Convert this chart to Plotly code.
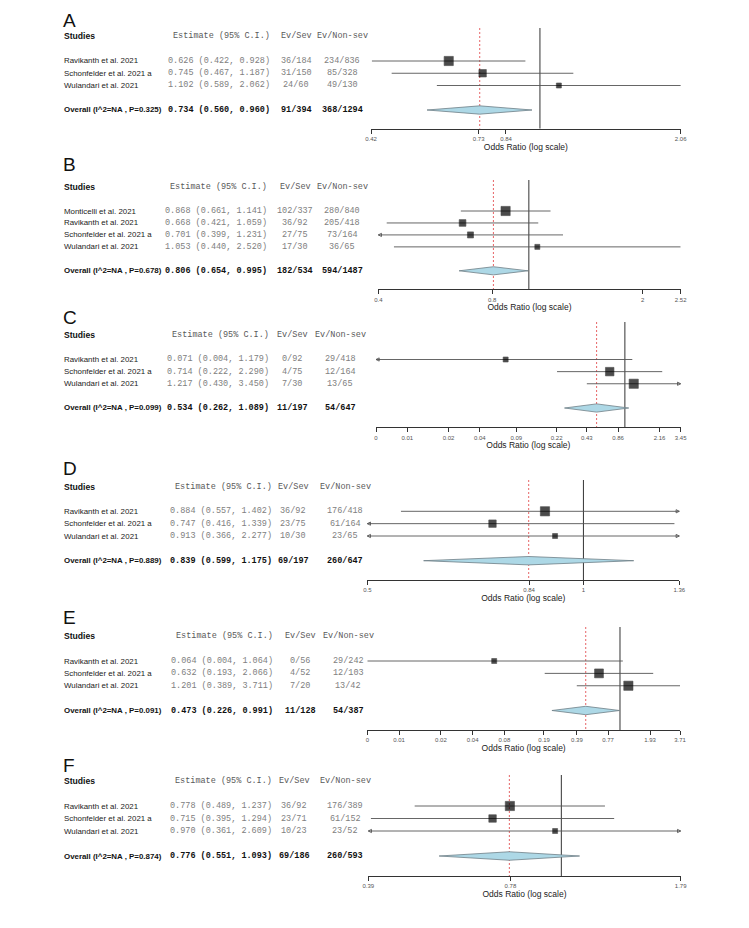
import math
import plotly.graph_objects as go

# page window is 749x928; the html body adds an 8px margin, so the figure is sized to fit inside it
PAGE_MARGIN = 8
W, H = 749 - PAGE_MARGIN, 928 - PAGE_MARGIN

# ---------------------------------------------------------------- data
studies_A = ["Ravikanth et al. 2021", "Schonfelder et al. 2021 a", "Wulandari et al. 2021"]
est_A = [0.626, 0.745, 1.102]
lb_A = [0.422, 0.467, 0.589]
ub_A = [0.928, 1.187, 2.062]
ev_sev_A = ["36/184", "31/150", "24/60"]
ev_non_A = ["234/836", "85/328", "49/130"]
overall_A = [0.734, 0.560, 0.960]
overall_ev_A = ["91/394", "368/1294"]
p_A = "0.325"
ticks_A = [0.42, 0.73, 0.84, 2.06]
ticklabels_A = ["0.42", "0.73", "0.84", "2.06"]

studies_B = ["Monticelli et al. 2021", "Ravikanth et al. 2021", "Schonfelder et al. 2021 a", "Wulandari et al. 2021"]
est_B = [0.868, 0.668, 0.701, 1.053]
lb_B = [0.661, 0.421, 0.399, 0.440]
ub_B = [1.141, 1.059, 1.231, 2.520]
ev_sev_B = ["102/337", "36/92", "27/75", "17/30"]
ev_non_B = ["280/840", "205/418", "73/164", "36/65"]
overall_B = [0.806, 0.654, 0.995]
overall_ev_B = ["182/534", "594/1487"]
p_B = "0.678"
ticks_B = [0.4, 0.8, 2, 2.52]
ticklabels_B = ["0.4", "0.8", "2", "2.52"]

studies_C = ["Ravikanth et al. 2021", "Schonfelder et al. 2021 a", "Wulandari et al. 2021"]
est_C = [0.071, 0.714, 1.217]
lb_C = [0.004, 0.222, 0.430]
ub_C = [1.179, 2.290, 3.450]
ev_sev_C = ["0/92", "4/75", "7/30"]
ev_non_C = ["29/418", "12/164", "13/65"]
overall_C = [0.534, 0.262, 1.089]
overall_ev_C = ["11/197", "54/647"]
p_C = "0.099"
ticks_C = [0.004, 0.008, 0.02, 0.04, 0.09, 0.22, 0.43, 0.86, 2.16, 3.45]
ticklabels_C = ["0", "0.01", "0.02", "0.04", "0.09", "0.22", "0.43", "0.86", "2.16", "3.45"]

studies_D = ["Ravikanth et al. 2021", "Schonfelder et al. 2021 a", "Wulandari et al. 2021"]
est_D = [0.884, 0.747, 0.913]
lb_D = [0.557, 0.416, 0.366]
ub_D = [1.402, 1.339, 2.277]
ev_sev_D = ["36/92", "23/75", "10/30"]
ev_non_D = ["176/418", "61/164", "23/65"]
overall_D = [0.839, 0.599, 1.175]
overall_ev_D = ["69/197", "260/647"]
p_D = "0.889"
ticks_D = [0.5, 0.84, 1, 1.36]
ticklabels_D = ["0.5", "0.84", "1", "1.36"]

studies_E = ["Ravikanth et al. 2021", "Schonfelder et al. 2021 a", "Wulandari et al. 2021"]
est_E = [0.064, 0.632, 1.201]
lb_E = [0.004, 0.193, 0.389]
ub_E = [1.064, 2.066, 3.711]
ev_sev_E = ["0/56", "4/52", "7/20"]
ev_non_E = ["29/242", "12/103", "13/42"]
overall_E = [0.473, 0.226, 0.991]
overall_ev_E = ["11/128", "54/387"]
p_E = "0.091"
ticks_E = [0.004, 0.008, 0.02, 0.04, 0.08, 0.19, 0.39, 0.77, 1.93, 3.71]
ticklabels_E = ["0", "0.01", "0.02", "0.04", "0.08", "0.19", "0.39", "0.77", "1.93", "3.71"]

studies_F = ["Ravikanth et al. 2021", "Schonfelder et al. 2021 a", "Wulandari et al. 2021"]
est_F = [0.778, 0.715, 0.970]
lb_F = [0.489, 0.395, 0.361]
ub_F = [1.237, 1.294, 2.609]
ev_sev_F = ["36/92", "23/71", "10/23"]
ev_non_F = ["176/389", "61/152", "23/52"]
overall_F = [0.776, 0.551, 1.093]
overall_ev_F = ["69/186", "260/593"]
p_F = "0.874"
ticks_F = [0.39, 0.78, 1.79]
ticklabels_F = ["0.39", "0.78", "1.79"]

panels = [
    dict(letter="A", studies=studies_A, est=est_A, lb=lb_A, ub=ub_A, ev_sev=ev_sev_A, ev_non=ev_non_A,
         overall=overall_A, overall_ev=overall_ev_A, p=p_A, ticks=ticks_A, ticklabels=ticklabels_A),
    dict(letter="B", studies=studies_B, est=est_B, lb=lb_B, ub=ub_B, ev_sev=ev_sev_B, ev_non=ev_non_B,
         overall=overall_B, overall_ev=overall_ev_B, p=p_B, ticks=ticks_B, ticklabels=ticklabels_B),
    dict(letter="C", studies=studies_C, est=est_C, lb=lb_C, ub=ub_C, ev_sev=ev_sev_C, ev_non=ev_non_C,
         overall=overall_C, overall_ev=overall_ev_C, p=p_C, ticks=ticks_C, ticklabels=ticklabels_C),
    dict(letter="D", studies=studies_D, est=est_D, lb=lb_D, ub=ub_D, ev_sev=ev_sev_D, ev_non=ev_non_D,
         overall=overall_D, overall_ev=overall_ev_D, p=p_D, ticks=ticks_D, ticklabels=ticklabels_D),
    dict(letter="E", studies=studies_E, est=est_E, lb=lb_E, ub=ub_E, ev_sev=ev_sev_E, ev_non=ev_non_E,
         overall=overall_E, overall_ev=overall_ev_E, p=p_E, ticks=ticks_E, ticklabels=ticklabels_E),
    dict(letter="F", studies=studies_F, est=est_F, lb=lb_F, ub=ub_F, ev_sev=ev_sev_F, ev_non=ev_non_F,
         overall=overall_F, overall_ev=overall_ev_F, p=p_F, ticks=ticks_F, ticklabels=ticklabels_F),
]

# ---------------------------------------------------------------- layout / style (page pixels)
geom = {
    "A": dict(x0=371, x1=680.7, first=61, overall=110, axis=128.7, top=28, letter=21, est_r=272, sev=296, non=342),
    "B": dict(x0=378.3, x1=680.7, first=211, overall=270.8, axis=289.3, top=180, letter=165, est_r=269, sev=295, non=342),
    "C": dict(x0=376, x1=680.7, first=359.5, overall=408, axis=427.3, top=322, letter=317, est_r=270.5, sev=292, non=340),
    "D": dict(x0=367.3, x1=679.3, first=511.3, overall=560.7, axis=580, top=480, letter=468, est_r=273.5, sev=293, non=345),
    "E": dict(x0=367.3, x1=680, first=661, overall=710.5, axis=730, top=627, letter=617, est_r=275, sev=300, non=348),
    "F": dict(x0=368.3, x1=680.7, first=806, overall=856, axis=876, top=775, letter=765, est_r=273.5, sev=294, non=345),
}
# (left arrow, right arrow) drawn for truncated intervals
arrows = {
    "A": [(0, 0), (0, 0), (0, 0)],
    "B": [(0, 0), (0, 0), (1, 0), (0, 0)],
    "C": [(1, 0), (0, 0), (0, 1)],
    "D": [(0, 1), (1, 0), (1, 1)],
    "E": [(0, 0), (0, 0), (0, 0)],
    "F": [(0, 0), (0, 0), (1, 1)],
}

SANS = "Liberation Sans, Arial, sans-serif"
MONO = "Liberation Mono, Courier New, monospace"
CI_COL = "#555555"
ROW_GRAY = "#808080"
HDR_GRAY = "#5a5a5a"
DIAMOND_FILL = "#ADD8E6"
MIN_SQ, MAX_SQ = 5.0, 9.2
DIAMOND_HALF = 0.34
NAME_SIZE = 7.9
MONO_SIZE = 8.5

fig = go.Figure()
annotations = []
layout_axes = {}


def px_x(p):
    return (p - PAGE_MARGIN) / W


def px_y(p):
    return 1 - (p - PAGE_MARGIN) / H


for i, pn in enumerate(panels, start=1):
    g = geom[pn["letter"]]
    n = len(pn["studies"])
    xa = "x" if i == 1 else f"x{i}"
    ya = "y" if i == 1 else f"y{i}"
    xkey = "xaxis" if i == 1 else f"xaxis{i}"
    ykey = "yaxis" if i == 1 else f"yaxis{i}"

    s = (g["overall"] - g["first"]) / (n + 1)
    y_bottom = 1 + (g["axis"] - g["first"]) / s
    y_top = 1 + (g["top"] - g["first"]) / s
    rows = list(range(1, n + 1))
    y_over = n + 2
    y_hdr = -1

    xmin, xmax = pn["ticks"][0], pn["ticks"][-1]

    layout_axes[xkey] = dict(
        type="log", range=[math.log10(xmin), math.log10(xmax)],
        domain=[px_x(g["x0"]), px_x(g["x1"])], anchor=ya,
        showline=True, linecolor="#333333", linewidth=1, mirror=False,
        ticks="outside", ticklen=4, tickwidth=1, tickcolor="#333333",
        tickvals=pn["ticks"], ticktext=pn["ticklabels"],
        tickfont=dict(family=SANS, size=6, color="#555555"),
        showgrid=False, zeroline=False, fixedrange=True,
        title=dict(text="Odds Ratio (log scale)", font=dict(family=SANS, size=8.5, color="#222222"), standoff=1),
        automargin=False,
    )
    layout_axes[ykey] = dict(
        range=[y_bottom, y_top], domain=[px_y(g["axis"]), px_y(g["top"])], anchor=xa,
        visible=False, fixedrange=True,
    )

    # reference line at OR = 1
    fig.add_trace(go.Scatter(x=[1, 1], y=[y_top, y_bottom], mode="lines", xaxis=xa, yaxis=ya,
                             line=dict(color="#333333", width=1), hoverinfo="skip", cliponaxis=False))
    # pooled estimate line
    fig.add_trace(go.Scatter(x=[pn["overall"][0]] * 2, y=[y_top, y_bottom], mode="lines", xaxis=xa, yaxis=ya,
                             line=dict(color="#e03c3f", width=0.8, dash="2px,2px"), hoverinfo="skip"))

    # CI lines
    for k in range(n):
        fig.add_trace(go.Scatter(x=[pn["lb"][k], pn["ub"][k]], y=[rows[k], rows[k]], mode="lines",
                                 xaxis=xa, yaxis=ya, line=dict(color=CI_COL, width=0.9), hoverinfo="skip"))
        la, ra = arrows[pn["letter"]][k]
        if la:
            fig.add_trace(go.Scatter(x=[xmin], y=[rows[k]], mode="markers", xaxis=xa, yaxis=ya,
                                     marker=dict(symbol="arrow-left-open", size=3.2, color=CI_COL,
                                                 line=dict(color=CI_COL, width=0.9)),
                                     hoverinfo="skip", cliponaxis=False))
        if ra:
            fig.add_trace(go.Scatter(x=[xmax], y=[rows[k]], mode="markers", xaxis=xa, yaxis=ya,
                                     marker=dict(symbol="arrow-right-open", size=3.2, color=CI_COL,
                                                 line=dict(color=CI_COL, width=0.9)),
                                     hoverinfo="skip", cliponaxis=False))

    # square sizes from inverse standard errors
    inv_se = [3.92 / (math.log(u) - math.log(l)) for l, u in zip(pn["lb"], pn["ub"])]
    lo, hi = min(inv_se), max(inv_se)
    sizes = [MIN_SQ + (MAX_SQ - MIN_SQ) * (v - lo) / (hi - lo) for v in inv_se]
    fig.add_trace(go.Scatter(x=pn["est"], y=rows, mode="markers", xaxis=xa, yaxis=ya,
                             marker=dict(symbol="square", size=sizes, color="#000000",
                                         line=dict(width=0.6, color="#000000")),
                             hoverinfo="skip", cliponaxis=False))

    # diamond
    oe, ol, ou = pn["overall"]
    fig.add_trace(go.Scatter(x=[ol, oe, ou, oe, ol], y=[y_over, y_over - DIAMOND_HALF, y_over, y_over + DIAMOND_HALF, y_over],
                             mode="lines", fill="toself", fillcolor=DIAMOND_FILL, xaxis=xa, yaxis=ya,
                             line=dict(color="#6f7f86", width=0.8), hoverinfo="skip"))

    # ---- texts
    annotations.append(dict(text=pn["letter"], xref="paper", yref="paper", x=px_x(61), y=px_y(g["letter"]),
                            xanchor="left", yanchor="middle", showarrow=False,
                            font=dict(family=SANS, size=19, color="#111111")))
    hdr = [("<b>Studies</b>", 62, "left", SANS, 8.6, "#111111"),
           ("Estimate (95% C.I.)", g["est_r"], "right", MONO, MONO_SIZE, HDR_GRAY),
           ("Ev/Sev", g["sev"], "center", MONO, MONO_SIZE, HDR_GRAY),
           ("Ev/Non-sev", g["non"], "center", MONO, MONO_SIZE, HDR_GRAY)]
    for txt, xp, anc, fam, sz, col in hdr:
        annotations.append(dict(text=txt, xref="paper", yref=ya, x=px_x(xp), y=y_hdr, xanchor=anc,
                                yanchor="middle", showarrow=False, font=dict(family=fam, size=sz, color=col)))
    for k in range(n):
        est_txt = f"{pn['est'][k]:.3f} ({pn['lb'][k]:.3f}, {pn['ub'][k]:.3f})"
        cells = [(pn["studies"][k], 62, "left", SANS, NAME_SIZE, "#222222"),
                 (est_txt, g["est_r"], "right", MONO, MONO_SIZE, ROW_GRAY),
                 (pn["ev_sev"][k], g["sev"], "center", MONO, MONO_SIZE, ROW_GRAY),
                 (pn["ev_non"][k], g["non"], "center", MONO, MONO_SIZE, ROW_GRAY)]
        for txt, xp, anc, fam, sz, col in cells:
            annotations.append(dict(text=txt, xref="paper", yref=ya, x=px_x(xp), y=rows[k], xanchor=anc,
                                    yanchor="middle", showarrow=False, font=dict(family=fam, size=sz, color=col)))
    ov_txt = f"{oe:.3f} ({ol:.3f}, {ou:.3f})"
    cells = [(f"<b>Overall (I^2=NA , P={pn['p']})</b>", 62, "left", SANS, 7.9),
             (f"<b>{ov_txt}</b>", g["est_r"], "right", MONO, MONO_SIZE),
             (f"<b>{pn['overall_ev'][0]}</b>", g["sev"], "center", MONO, MONO_SIZE),
             (f"<b>{pn['overall_ev'][1]}</b>", g["non"], "center", MONO, MONO_SIZE)]
    for txt, xp, anc, fam, sz in cells:
        annotations.append(dict(text=txt, xref="paper", yref=ya, x=px_x(xp), y=y_over, xanchor=anc,
                                yanchor="middle", showarrow=False, font=dict(family=fam, size=sz, color="#111111")))

fig.update_layout(
    width=W, height=H, margin=dict(l=0, r=0, t=0, b=0),
    paper_bgcolor="white", plot_bgcolor="white",
    showlegend=False, hovermode=False,
    annotations=annotations,
    **layout_axes,
)

fig.write_html("out.html", config=dict(displayModeBar=False))
